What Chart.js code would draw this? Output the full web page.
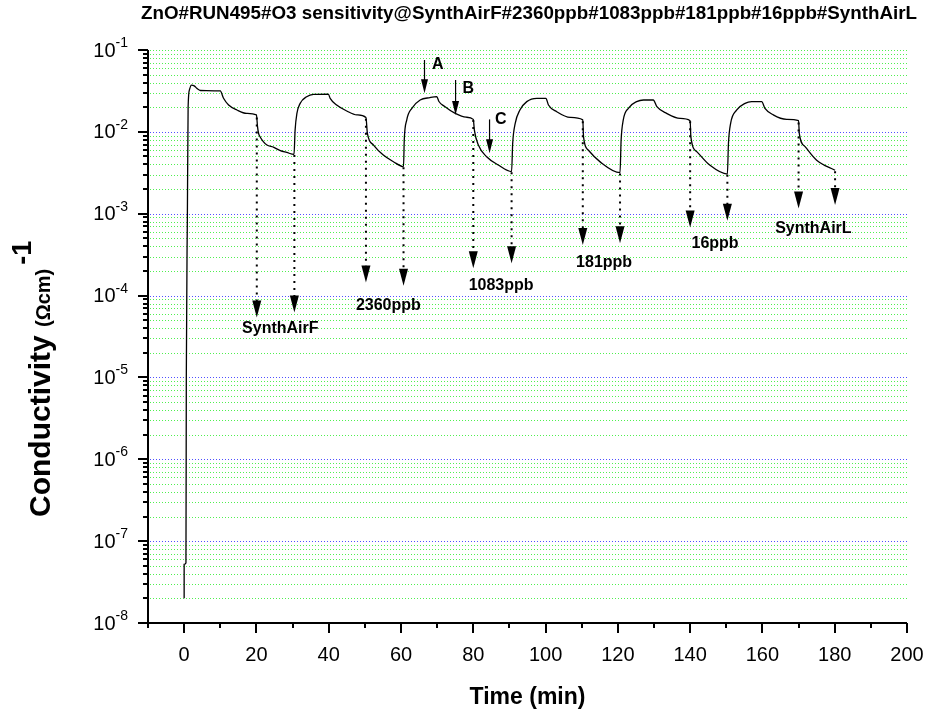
<!DOCTYPE html>
<html>
<head>
<meta charset="utf-8">
<script src="https://cdn.jsdelivr.net/npm/chart.js@4.4.1/dist/chart.umd.min.js"></script>
<style>
  html, body { margin: 0; padding: 0; background: #fff; }
  #wrap { width: 927px; height: 719px; }
</style>
</head>
<body>
<div id="wrap"><canvas id="chart" width="927" height="719"></canvas></div>
<script>
// time (min) and conductivity
const timeMin = [
  0, 0, 0.5, 0.6, 0.9, 1.1, 1.5, 2, 2.8, 3.5, 4.5, 10,
  10.9, 12.3, 14.6, 17.3, 20,
  20.3, 20.6, 21, 21.9, 22.9, 24.7, 26.6, 28.4, 30.4,
  30.7, 31.2, 32.1, 33.9, 35.8, 39.9,
  40.4, 42.2, 45, 47.8, 50.3,
  50.7, 52.4, 55.1, 57.9, 60.7,
  60.9, 61.6, 63, 65.3, 68, 69.9,
  70.5, 72, 75, 78, 80,
  80.3, 81.4, 83.7, 86.9, 90.6,
  90.9, 91.6, 92.9, 94.8, 97.6, 100.1,
  100.8, 103.1, 106.8, 110.3,
  110.5, 111.8, 115.1, 120.6,
  120.9, 121.5, 122.9, 125.2, 127.1, 129.8,
  130.8, 133.5, 137.2, 140,
  140.2, 141.9, 145.5, 150.3,
  150.6, 151.2, 152.9, 155.2, 157, 159.8,
  160.7, 163, 166.7, 170,
  170.2, 171.8, 175, 180.1
];
const conductivity = [
  2e-8, 5.2e-8, 5.4e-8, 1e-5, 1e-3, 0.02, 0.033, 0.0372, 0.0365, 0.034, 0.032, 0.0316,
  0.0257, 0.0213, 0.0185, 0.0168, 0.0161,
  0.0116, 0.0096, 0.0087, 0.0076, 0.0069, 0.0065, 0.0059, 0.0056, 0.0053,
  0.0105, 0.0168, 0.0223, 0.0269, 0.0287, 0.0289,
  0.0257, 0.0213, 0.018, 0.0161, 0.015,
  0.0096, 0.0069, 0.0052, 0.00432, 0.00376,
  0.0079, 0.014, 0.0194, 0.0245, 0.0262, 0.0269,
  0.0235, 0.0205, 0.0168, 0.0151, 0.0142,
  0.0105, 0.0069, 0.00497, 0.00394, 0.00327,
  0.0072, 0.0127, 0.0185, 0.0234, 0.0257, 0.0257,
  0.0213, 0.0176, 0.015, 0.014,
  0.0087, 0.006, 0.0043, 0.00317,
  0.0079, 0.014, 0.0194, 0.0234, 0.0245, 0.0245,
  0.0203, 0.0168, 0.0146, 0.0137,
  0.0087, 0.0057, 0.0039, 0.00305,
  0.0072, 0.0127, 0.0185, 0.0223, 0.0234, 0.0234,
  0.0194, 0.0161, 0.0142, 0.0137,
  0.0096, 0.0066, 0.0045, 0.0034
];

// dotted arrows marking gas switches
const arrowTime = [20.1, 30.5, 50.3, 60.7, 80, 90.6, 110.3, 120.6, 140, 150.3, 170, 180.1];
const arrowFrom = [0.015, 0.0052, 0.0145, 0.0037, 0.014, 0.0032, 0.0135, 0.0031, 0.0135, 0.003, 0.013, 0.0033];
const arrowTo = [5.4e-5, 6.2e-5, 1.44e-4, 1.32e-4, 2.15e-4, 2.48e-4, 4.15e-4, 4.36e-4, 6.8e-4, 8.2e-4, 1.16e-3, 1.28e-3];

const gasLabels = ["SynthAirF", "2360ppb", "1083ppb", "181ppb", "16ppb", "SynthAirL"];
const gasLabelTime = [26.6, 56.5, 87.7, 116.2, 146.9, 174.1];
const gasLabelValue = [3.98e-5, 7.46e-5, 1.31e-4, 2.52e-4, 4.34e-4, 6.64e-4];

// A / B / C markers
const markLetters = ["A", "B", "C"];
const markTime = [66.5, 75.1, 84.5];
const markTop = [0.0755, 0.043, 0.0142];
const markTip = [0.0296, 0.0161, 0.00547];
const markLetterTime = [70.2, 78.6, 87.6];
const markLetterValue = [0.0656, 0.0334, 0.014];

const xTicks = [-10, 0, 10, 20, 30, 40, 50, 60, 70, 80, 90, 100, 110, 120, 130, 140, 150, 160, 170, 180, 190, 200];
const xTickLabels = [0, 20, 40, 60, 80, 100, 120, 140, 160, 180, 200];
const yDecades = [-8, -7, -6, -5, -4, -3, -2, -1];

const yTicks = [];
yDecades.forEach(e => {
  for (let m = 1; m <= 9; m++) {
    if (e === -1 && m > 1) break;
    yTicks.push(m * Math.pow(10, e));
  }
});

const FONT = '"Liberation Sans", Arial, sans-serif';

function isDecade(v) {
  const l = Math.log10(v);
  return Math.abs(l - Math.round(l)) < 1e-6;
}

function arrowHead(ctx, x, y, w, h) {
  ctx.beginPath();
  ctx.moveTo(x, y);
  ctx.lineTo(x - w / 2, y - h);
  ctx.lineTo(x + w / 2, y - h);
  ctx.closePath();
  ctx.fill();
}

// dotted horizontal grid from the y scale ticks
const gridLines = {
  id: "gridLines",
  beforeDatasetsDraw(chart) {
    const ctx = chart.ctx;
    const ys = chart.scales.y;
    const a = chart.chartArea;
    ctx.save();
    ctx.lineWidth = 1;
    ctx.setLineDash([1, 2]);
    ys.ticks.forEach(t => {
      const py = Math.round(ys.getPixelForValue(t.value)) + 0.5;
      if (py > a.bottom - 2) return;
      ctx.strokeStyle = (isDecade(t.value) && t.value < 0.05) ? "#5050ff" : "#50f050";
      ctx.beginPath();
      ctx.moveTo(a.left + 2, py);
      ctx.lineTo(a.right, py);
      ctx.stroke();
    });
    ctx.restore();
  }
};

const decor = {
  id: "decor",
  afterDraw(chart) {
    const ctx = chart.ctx;
    const xs = chart.scales.x, ys = chart.scales.y;
    const a = chart.chartArea;
    ctx.save();
    ctx.fillStyle = "#000";
    ctx.strokeStyle = "#000";

    // axes
    ctx.lineWidth = 2;
    ctx.beginPath();
    ctx.moveTo(a.left, a.top);
    ctx.lineTo(a.left, a.bottom);
    ctx.lineTo(a.right, a.bottom);
    ctx.stroke();

    // x ticks
    xTicks.forEach(v => {
      const px = Math.round(xs.getPixelForValue(v));
      const len = v % 20 === 0 ? 10 : 5;
      ctx.beginPath();
      ctx.moveTo(px, a.bottom);
      ctx.lineTo(px, a.bottom + len);
      ctx.stroke();
    });
    // y ticks
    yTicks.forEach(v => {
      const py = Math.round(ys.getPixelForValue(v));
      const len = isDecade(v) ? 10 : 5;
      ctx.beginPath();
      ctx.moveTo(a.left, py);
      ctx.lineTo(a.left - len, py);
      ctx.stroke();
    });

    // x tick labels
    ctx.font = "20px " + FONT;
    ctx.textAlign = "center";
    ctx.textBaseline = "middle";
    xTickLabels.forEach(v => {
      ctx.fillText(String(v), xs.getPixelForValue(v), a.bottom + 32);
    });

    // y tick labels 10^n
    yDecades.forEach(e => {
      const py = ys.getPixelForValue(Math.pow(10, e));
      const sup = String(e);
      ctx.font = "14px " + FONT;
      const sw = ctx.measureText(sup).width;
      ctx.textAlign = "left";
      ctx.textBaseline = "alphabetic";
      const xEnd = a.left - 20;
      ctx.fillText(sup, xEnd - sw, py - 3);
      ctx.font = "20px " + FONT;
      ctx.textAlign = "right";
      ctx.textBaseline = "middle";
      ctx.fillText("10", xEnd - sw, py + 1);
    });

    // dotted arrows
    arrowTime.forEach((t, i) => {
      const px = xs.getPixelForValue(t);
      const y0 = ys.getPixelForValue(arrowFrom[i]);
      const y1 = ys.getPixelForValue(arrowTo[i]);
      ctx.save();
      ctx.lineWidth = 2;
      ctx.setLineDash([2, 5]);
      ctx.beginPath();
      ctx.moveTo(px, y0);
      ctx.lineTo(px, y1 - 14);
      ctx.stroke();
      ctx.restore();
      arrowHead(ctx, px, y1, 9, 17);
    });

    ctx.font = "bold 16px " + FONT;
    ctx.textAlign = "center";
    ctx.textBaseline = "middle";
    gasLabels.forEach((s, i) => {
      ctx.fillText(s, xs.getPixelForValue(gasLabelTime[i]), ys.getPixelForValue(gasLabelValue[i]));
    });

    // A B C markers
    markLetters.forEach((s, i) => {
      const px = xs.getPixelForValue(markTime[i]);
      const y0 = ys.getPixelForValue(markTop[i]);
      const y1 = ys.getPixelForValue(markTip[i]);
      ctx.lineWidth = 1.2;
      ctx.beginPath();
      ctx.moveTo(px, y0);
      ctx.lineTo(px, y1 - 10);
      ctx.stroke();
      arrowHead(ctx, px, y1, 7, 14);
      ctx.font = "bold 16px " + FONT;
      ctx.fillText(s, xs.getPixelForValue(markLetterTime[i]), ys.getPixelForValue(markLetterValue[i]));
    });

    // title
    ctx.font = "bold 18.8px " + FONT;
    ctx.textAlign = "center";
    ctx.textBaseline = "middle";
    ctx.fillText("ZnO#RUN495#O3 sensitivity@SynthAirF#2360ppb#1083ppb#181ppb#16ppb#SynthAirL", 529, 14);

    // x axis title
    ctx.font = "bold 23px " + FONT;
    ctx.fillText("Time (min)", (a.left + a.right) / 2, 698);

    // y axis title with small units and superscript
    ctx.save();
    ctx.translate(50, 517);
    ctx.rotate(-Math.PI / 2);
    ctx.textAlign = "left";
    ctx.textBaseline = "alphabetic";
    const p1 = "Conductivity ", p2 = "(\u03A9cm)", p3 = "-1";
    ctx.font = "bold 30px " + FONT;
    const w1 = ctx.measureText(p1).width;
    ctx.fillText(p1, 0, 0);
    ctx.font = "bold 20px " + FONT;
    const w2 = ctx.measureText(p2).width;
    ctx.fillText(p2, w1, 0);
    ctx.font = "bold 27px " + FONT;
    ctx.fillText(p3, w1 + w2 + 4, -19);
    ctx.restore();

    ctx.restore();
  }
};

new Chart(document.getElementById("chart"), {
  type: "line",
  data: {
    datasets: [{
      data: timeMin.map((t, i) => ({ x: t, y: conductivity[i] })),
      borderColor: "#000",
      borderWidth: 1.3,
      pointRadius: 0,
      fill: false,
      cubicInterpolationMode: "monotone"
    }]
  },
  options: {
    responsive: false,
    animation: false,
    devicePixelRatio: 1,
    layout: { padding: { left: 148, right: 20, top: 50, bottom: 96 } },
    plugins: { legend: { display: false }, title: { display: false }, tooltip: { enabled: false } },
    scales: {
      x: {
        type: "linear",
        min: -10,
        max: 200,
        ticks: { display: false },
        grid: { display: false },
        border: { display: false },
        afterFit: s => { s.height = 0; }
      },
      y: {
        type: "logarithmic",
        min: 1e-8,
        max: 1e-1,
        afterBuildTicks: s => { s.ticks = yTicks.map(v => ({ value: v })); },
        ticks: { display: false },
        grid: { display: false },
        border: { display: false },
        afterFit: s => { s.width = 0; }
      }
    }
  },
  plugins: [gridLines, decor]
});
</script>
</body>
</html>
